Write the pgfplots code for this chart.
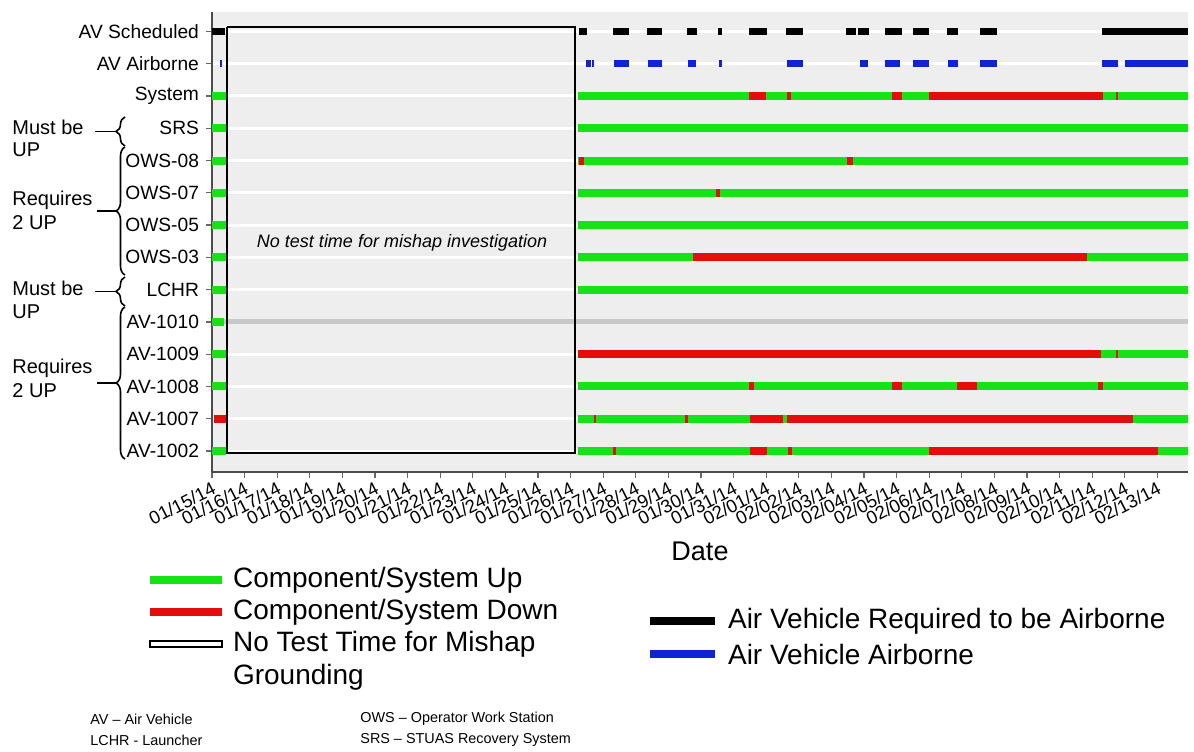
\documentclass[border=0pt]{standalone}
\usepackage{pgfplots}
\pgfplotsset{compat=1.18}
\usepackage{fontspec}
\setmainfont{Liberation Sans}
\usetikzlibrary{decorations.pathreplacing}
\definecolor{upgreen}{RGB}{20,228,20}
\definecolor{downred}{RGB}{228,12,12}
\definecolor{avblue}{RGB}{15,35,215}
\definecolor{bgray}{RGB}{238,238,238}
\definecolor{rowgray}{RGB}{200,200,200}
\begin{document}
\begin{tikzpicture}
\path[use as bounding box] (0,0) rectangle (597pt,-375.5pt);
\begin{axis}[
  scale only axis, width=488pt, height=230pt,
  anchor=south west, at={(106pt,-236pt)},
  xmin=0, xmax=29.94, ymin=-0.65, ymax=13.6,
  axis x line=bottom, axis y line=left,
  axis line style={-, black!70, line width=0.8pt},
  tick align=outside, major tick length=3pt,
  tick style={black!60, line width=0.6pt},
  xtick={0,...,29},
  xticklabels={01/15/14,01/16/14,01/17/14,01/18/14,01/19/14,01/20/14,01/21/14,01/22/14,01/23/14,01/24/14,01/25/14,01/26/14,01/27/14,01/28/14,01/29/14,01/30/14,01/31/14,02/01/14,02/02/14,02/03/14,02/04/14,02/05/14,02/06/14,02/07/14,02/08/14,02/09/14,02/10/14,02/11/14,02/12/14,02/13/14},
  x tick label style={rotate=27, anchor=north east, font=\fontsize{9.2}{10}\selectfont, inner sep=1pt},
  ytick={0,...,13},
  yticklabels={AV-1002,AV-1007,AV-1008,AV-1009,AV-1010,LCHR,OWS-03,OWS-05,OWS-07,OWS-08,SRS,System,AV Airborne,AV Scheduled},
  y tick label style={font=\fontsize{9.6}{10}\selectfont},
  xlabel={Date},
  xlabel style={font=\fontsize{13.5}{14}\selectfont, at={(axis description cs:0.5,-0.172)}, anchor=center},
  axis background/.style={fill=bgray},
  ymajorgrids, grid style={white, line width=1.5pt},
  unbounded coords=jump,
]
% AV-1010 gray (no data) line
\addplot[rowgray, line width=2.5pt] coordinates {(0.37,4) (29.94,4)};
% Component/System Up
\addplot[upgreen, line width=4pt] coordinates {
(0,11) (0.43,11) (0.5,nan) (11.23,11) (29.94,11) (29.95,nan)
(0,10) (0.43,10) (0.5,nan) (11.23,10) (29.94,10) (29.95,nan)
(0,9) (0.43,9) (0.5,nan) (11.23,9) (29.94,9) (29.95,nan)
(0,8) (0.43,8) (0.5,nan) (11.23,8) (29.94,8) (29.95,nan)
(0,7) (0.43,7) (0.5,nan) (11.23,7) (29.94,7) (29.95,nan)
(0,6) (0.43,6) (0.5,nan) (11.23,6) (29.94,6) (29.95,nan)
(0,5) (0.43,5) (0.5,nan) (11.23,5) (29.94,5) (29.95,nan)
(0,4) (0.37,4) (0.5,nan)
(0,3) (0.43,3) (0.5,nan) (11.23,3) (29.94,3) (29.95,nan)
(0,2) (0.43,2) (0.5,nan) (11.23,2) (29.94,2) (29.95,nan)
(11.23,1) (29.94,1) (29.95,nan)
(0,0) (0.43,0) (0.5,nan) (11.23,0) (29.94,0)
};
% Component/System Down
\addplot[downred, line width=4pt] coordinates {
(16.47,11) (16.99,11) (17.0,nan) (17.64,11) (17.76,11) (17.8,nan) (20.86,11) (21.17,11) (21.2,nan) (21.99,11) (27.33,11) (27.4,nan) (27.72,11) (27.80,11) (27.9,nan)
(11.26,9) (11.40,9) (11.5,nan) (19.48,9) (19.66,9) (19.7,nan)
(15.46,8) (15.58,8) (15.6,nan)
(14.75,6) (26.84,6) (26.9,nan)
(11.23,3) (27.27,3) (27.3,nan) (27.74,3) (27.80,3) (27.9,nan)
(16.47,2) (16.63,2) (16.7,nan) (20.86,2) (21.17,2) (21.2,nan) (22.85,2) (23.47,2) (23.5,nan) (27.18,2) (27.33,2) (27.4,nan)
(0.06,1) (0.43,1) (0.5,nan) (11.72,1) (11.78,1) (11.8,nan) (14.50,1) (14.60,1) (14.7,nan) (16.50,1) (17.51,1) (17.55,nan) (17.64,1) (28.25,1) (28.3,nan)
(12.31,0) (12.40,0) (12.5,nan) (16.50,0) (17.02,0) (17.1,nan) (17.67,0) (17.79,0) (17.8,nan) (21.99,0) (29.02,0)
};
% Air Vehicle Required to be Airborne
\addplot[black, line width=3.6pt] coordinates {
(0,13) (0.40,13) (0.5,nan) (11.26,13) (11.50,13) (11.6,nan) (12.30,13) (12.79,13) (12.8,nan)
(13.34,13) (13.80,13) (13.9,nan) (14.57,13) (14.88,13) (14.9,nan) (15.52,13) (15.64,13) (15.7,nan)
(16.47,13) (17.02,13) (17.1,nan) (17.61,13) (18.13,13) (18.2,nan) (19.45,13) (19.75,13) (19.8,nan)
(19.82,13) (20.15,13) (20.2,nan) (20.64,13) (21.17,13) (21.2,nan) (21.50,13) (21.99,13) (22.0,nan)
(22.55,13) (22.88,13) (22.9,nan) (23.56,13) (24.08,13) (24.1,nan) (27.30,13) (29.94,13)
};
% Air Vehicle Airborne
\addplot[avblue, line width=3.4pt] coordinates {
(0.25,12) (0.32,12) (0.4,nan) (11.46,12) (11.62,12) (11.63,nan) (11.66,12) (11.72,12) (11.8,nan)
(12.33,12) (12.79,12) (12.8,nan) (13.37,12) (13.80,12) (13.9,nan) (14.60,12) (14.85,12) (14.9,nan)
(15.55,12) (15.64,12) (15.7,nan) (17.64,12) (18.13,12) (18.2,nan) (19.88,12) (20.12,12) (20.2,nan)
(20.64,12) (21.10,12) (21.2,nan) (21.50,12) (21.99,12) (22.0,nan) (22.58,12) (22.88,12) (22.9,nan)
(23.56,12) (24.08,12) (24.1,nan) (27.30,12) (27.79,12) (27.9,nan) (28.01,12) (29.94,12)
};
% No test time for mishap grounding
\addplot[black, line width=1pt] coordinates {(0.46,13.14) (11.13,13.14) (11.13,-0.06) (0.46,-0.06) (0.46,13.14)};
\node[font=\fontsize{9}{10}\selectfont\itshape] at (axis cs:5.83,6.44) {No test time for mishap investigation};
\end{axis}
\begin{scope}[x=0.5pt,y=-0.5pt]
% left annotations
\node[anchor=west, font=\fontsize{10}{11}\selectfont, inner sep=0pt] at (12,127) {Must be};
\node[anchor=west, font=\fontsize{10}{11}\selectfont, inner sep=0pt] at (12,150) {UP};
\node[anchor=west, font=\fontsize{10}{11}\selectfont, inner sep=0pt] at (12,200) {Requires};
\node[anchor=west, font=\fontsize{10}{11}\selectfont, inner sep=0pt] at (12,223) {2 UP};
\node[anchor=west, font=\fontsize{10}{11}\selectfont, inner sep=0pt] at (12,288) {Must be};
\node[anchor=west, font=\fontsize{10}{11}\selectfont, inner sep=0pt] at (12,312) {UP};
\node[anchor=west, font=\fontsize{10}{11}\selectfont, inner sep=0pt] at (12,368) {Requires};
\node[anchor=west, font=\fontsize{10}{11}\selectfont, inner sep=0pt] at (12,391) {2 UP};
\draw[line width=0.8pt, decorate, decoration={brace, amplitude=4.5pt}] (125,146) -- (125,117);
\draw[line width=0.8pt, decorate, decoration={brace, amplitude=4.5pt}] (125,275) -- (125,147);
\draw[line width=0.8pt, decorate, decoration={brace, amplitude=4.5pt}] (125,306) -- (125,277);
\draw[line width=0.8pt, decorate, decoration={brace, amplitude=4.5pt}] (125,459) -- (125,307);
\draw[line width=0.8pt] (95,131.5) -- (116,131.5);
\draw[line width=0.8pt] (97,211) -- (116,211);
\draw[line width=0.8pt] (95,291.5) -- (116,291.5);
\draw[line width=0.8pt] (97,383) -- (116,383);
% legend
\draw[upgreen, line width=4pt] (150,580) -- (222,580);
\node[anchor=west, font=\fontsize{14}{16}\selectfont] at (226,580) {Component/System Up};
\draw[downred, line width=4pt] (150,612) -- (222,612);
\node[anchor=west, font=\fontsize{14}{16}\selectfont] at (226,612) {Component/System Down};
\draw[black, fill=white, line width=0.7pt] (150,641) rectangle (222,647);
\node[anchor=west, font=\fontsize{14}{16}\selectfont] at (226,644) {No Test Time for Mishap};
\node[anchor=west, font=\fontsize{14}{16}\selectfont] at (226,677) {Grounding};
\draw[black, line width=4pt] (650,621) -- (715,621);
\node[anchor=west, font=\fontsize{14}{16}\selectfont] at (721,621) {Air Vehicle Required to be Airborne};
\draw[avblue, line width=4pt] (650,654) -- (715,654);
\node[anchor=west, font=\fontsize{14}{16}\selectfont] at (721,654) {Air Vehicle Airborne};
% footnotes
\node[anchor=west, font=\fontsize{7.2}{8}\selectfont, inner sep=0pt] at (90,719) {AV – Air Vehicle};
\node[anchor=west, font=\fontsize{7.2}{8}\selectfont, inner sep=0pt] at (90,740) {LCHR - Launcher};
\node[anchor=west, font=\fontsize{7.2}{8}\selectfont, inner sep=0pt] at (360,719) {OWS – Operator Work Station};
\node[anchor=west, font=\fontsize{7.2}{8}\selectfont, inner sep=0pt] at (360,740) {SRS – STUAS Recovery System};
\end{scope}
\end{tikzpicture}
\end{document}
